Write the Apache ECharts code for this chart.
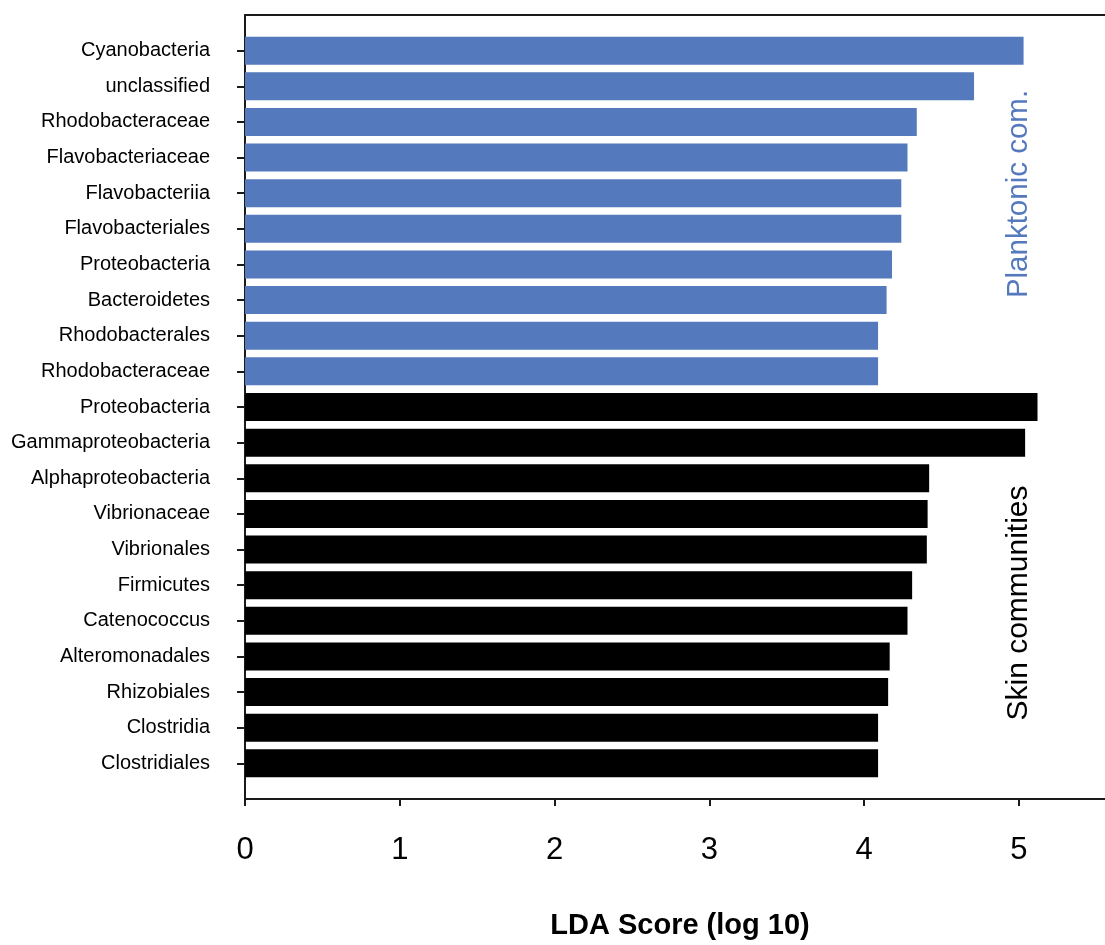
<!DOCTYPE html>
<html>
<head>
<meta charset="utf-8">
<script src="https://cdn.jsdelivr.net/npm/echarts@6/dist/echarts.min.js"></script>
<style>
html,body{margin:0;padding:0;background:#fff;}
#chart{width:1105px;height:945px;}
</style>
</head>
<body>
<div id="chart"></div>
<script>
// ---- Data ----
const planktonicTaxa = ['Cyanobacteria','unclassified','Rhodobacteraceae','Flavobacteriaceae','Flavobacteriia','Flavobacteriales','Proteobacteria','Bacteroidetes','Rhodobacterales','Rhodobacteraceae'];
const planktonicLDA = [5.03, 4.71, 4.34, 4.28, 4.24, 4.24, 4.18, 4.145, 4.09, 4.09];
const skinTaxa = ['Proteobacteria','Gammaproteobacteria','Alphaproteobacteria','Vibrionaceae','Vibrionales','Firmicutes','Catenococcus','Alteromonadales','Rhizobiales','Clostridia','Clostridiales'];
const skinLDA = [5.12, 5.04, 4.42, 4.41, 4.405, 4.31, 4.28, 4.165, 4.155, 4.09, 4.09];
const xTickValues = [0, 1, 2, 3, 4, 5];
const groupLabels = ['Planktonic com.', 'Skin communities'];
const xAxisTitle = 'LDA Score (log 10)';

const BLUE = '#5579bd';
const FONT = '"Liberation Sans", Arial, Helvetica, sans-serif';

const allTaxa = planktonicTaxa.concat(skinTaxa);
const keys = ['pad_top'].concat(allTaxa.map((_, i) => 'k' + i)).concat(['pad_bottom']);
const nameByKey = {};
allTaxa.forEach((t, i) => { nameByKey['k' + i] = t; });

const barData = [];
planktonicLDA.forEach((v, i) => barData.push({ value: [v, 'k' + i], itemStyle: { color: BLUE } }));
skinLDA.forEach((v, i) => barData.push({ value: [v, 'k' + (planktonicLDA.length + i)], itemStyle: { color: '#000' } }));

const chart = echarts.init(document.getElementById('chart'), null, { renderer: 'canvas' });
const axisLineStyle = { color: '#1a1a1a', width: 2 };

chart.setOption({
  animation: false,
  backgroundColor: '#fff',
  grid: { left: 245, right: 0, top: 15, bottom: 145, containLabel: false },
  xAxis: [{
    type: 'value',
    position: 'bottom',
    min: 0,
    max: 5.556,
    interval: 1,
    splitLine: { show: false },
    axisLine: { show: true, lineStyle: axisLineStyle },
    axisTick: { show: true, length: 7, inside: false, lineStyle: { color: '#1a1a1a', width: 2 } },
    axisLabel: {
      color: '#000', fontSize: 31, fontFamily: FONT, margin: 36, showMaxLabel: false,
      formatter: v => (xTickValues.indexOf(v) >= 0 ? String(v) : '')
    },
    name: xAxisTitle,
    nameLocation: 'middle',
    nameGap: 112,
    nameTextStyle: { color: '#000', fontSize: 29, fontWeight: 'bold', fontFamily: FONT, padding: [0, 0, 0, 10] }
  }, {
    type: 'value',
    position: 'top',
    min: 0,
    max: 5.556,
    interval: 1,
    splitLine: { show: false },
    axisLine: { show: true, lineStyle: axisLineStyle },
    axisTick: { show: false },
    axisLabel: { show: false }
  }],
  yAxis: {
    type: 'category',
    inverse: true,
    boundaryGap: false,
    data: keys,
    axisLine: { show: true, lineStyle: axisLineStyle },
    axisTick: {
      show: true, length: 8, inside: false,
      interval: (idx, val) => !!nameByKey[val],
      lineStyle: { color: '#1a1a1a', width: 2 }
    },
    axisLabel: {
      interval: 0, color: '#000', fontSize: 20, fontFamily: FONT, margin: 35,
      lineHeight: 22, padding: [8, 0, 0, 0],
      formatter: v => nameByKey[v] || ''
    },
    splitLine: { show: false }
  },
  series: [{
    type: 'bar',
    xAxisIndex: 0,
    barWidth: 28,
    data: barData,
    encode: { x: 0, y: 1 }
  }],
  graphic: [
    {
      type: 'text', x: 1019, y: 194, rotation: Math.PI / 2,
      style: { text: groupLabels[0], fill: BLUE, font: '29.5px ' + FONT, textAlign: 'center', textVerticalAlign: 'middle' }
    },
    {
      type: 'text', x: 1019, y: 603, rotation: Math.PI / 2,
      style: { text: groupLabels[1], fill: '#000', font: '30px ' + FONT, textAlign: 'center', textVerticalAlign: 'middle' }
    }
  ]
});
</script>
</body>
</html>
